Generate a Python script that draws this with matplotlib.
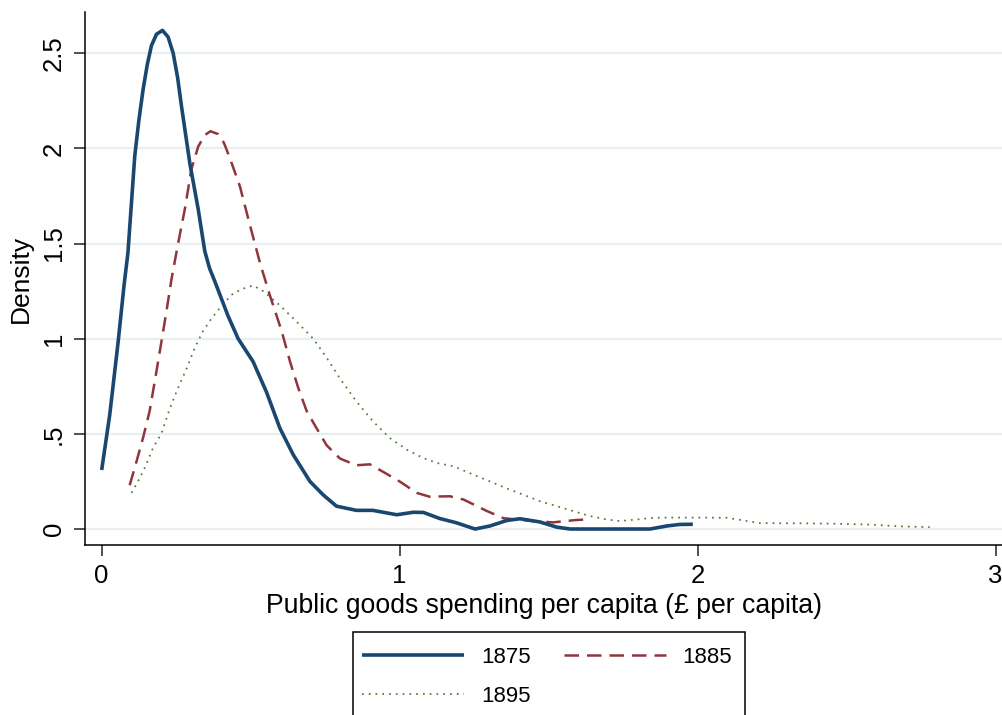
import matplotlib
matplotlib.use("Agg")
import matplotlib.pyplot as plt
from matplotlib.patches import Rectangle

plt.rcParams['font.family'] = ['Liberation Sans', 'DejaVu Sans']

# Kernel density estimates of public goods spending per capita
x1875 = [0, 0.027, 0.055, 0.075, 0.088, 0.111, 0.125, 0.139, 0.153, 0.167, 0.184,
         0.204, 0.223, 0.24, 0.255, 0.268, 0.296, 0.324, 0.346, 0.362, 0.38, 0.424,
         0.458, 0.508, 0.553, 0.598, 0.643, 0.699, 0.743, 0.788, 0.855, 0.91, 0.99,
         1.046, 1.08, 1.135, 1.19, 1.253, 1.303, 1.36, 1.404, 1.471, 1.527, 1.572,
         1.84, 1.897, 1.94, 1.984]
y1875 = [0.31, 0.60, 0.98, 1.28, 1.45, 1.96, 2.15, 2.31, 2.44, 2.54, 2.60,
         2.62, 2.585, 2.50, 2.37, 2.22, 1.92, 1.68, 1.46, 1.37, 1.30, 1.12,
         1.00, 0.88, 0.72, 0.53, 0.39, 0.25, 0.18, 0.12, 0.098, 0.098, 0.075,
         0.088, 0.087, 0.055, 0.033, 0.0, 0.016, 0.045, 0.054, 0.037, 0.01, 0.0,
         0.0, 0.016, 0.024, 0.025]

x1885 = [0.094, 0.116, 0.139, 0.161, 0.184, 0.2, 0.217, 0.234, 0.254, 0.279, 0.301,
         0.324, 0.346, 0.365, 0.391, 0.41, 0.43, 0.464, 0.497, 0.531, 0.564, 0.604,
         0.632, 0.66, 0.688, 0.721, 0.755, 0.8, 0.855, 0.9, 0.945, 1.0, 1.057, 1.1,
         1.169, 1.214, 1.247, 1.292, 1.348, 1.404, 1.46, 1.516, 1.583, 1.622]
y1885 = [0.23, 0.35, 0.48, 0.62, 0.83, 0.98, 1.14, 1.31, 1.48, 1.68, 1.89,
         2.01, 2.07, 2.09, 2.075, 2.03, 1.95, 1.80, 1.60, 1.40, 1.23, 1.04,
         0.88, 0.74, 0.62, 0.53, 0.44, 0.37, 0.335, 0.34, 0.30, 0.25, 0.19, 0.17,
         0.172, 0.155, 0.13, 0.095, 0.057, 0.048, 0.04, 0.035, 0.046, 0.05]

x1895 = [0.1, 0.122, 0.144, 0.172, 0.2, 0.228, 0.256, 0.284, 0.312, 0.34, 0.368,
         0.396, 0.435, 0.469, 0.508, 0.542, 0.598, 0.654, 0.71, 0.755, 0.8, 0.855,
         0.911, 0.967, 1.024, 1.079, 1.124, 1.18, 1.247, 1.303, 1.36, 1.415, 1.471,
         1.527, 1.583, 1.639, 1.695, 1.74, 1.796, 1.852, 1.919, 2.01, 2.098, 2.154,
         2.21, 2.345, 2.457, 2.568, 2.68, 2.779]
y1895 = [0.19, 0.25, 0.32, 0.425, 0.50, 0.63, 0.74, 0.84, 0.95, 1.04, 1.105,
         1.16, 1.23, 1.26, 1.28, 1.25, 1.175, 1.09, 1.0, 0.90, 0.79, 0.67,
         0.565, 0.478, 0.417, 0.373, 0.347, 0.33, 0.286, 0.25, 0.213, 0.18, 0.146,
         0.12, 0.094, 0.068, 0.05, 0.042, 0.05, 0.059, 0.06, 0.06, 0.059, 0.045,
         0.031, 0.03, 0.028, 0.024, 0.014, 0.01]

xticks = [0, 1, 2, 3]
xticklabels = ["0", "1", "2", "3"]
yticks = [0, 0.5, 1, 1.5, 2, 2.5]
yticklabels = ["0", ".5", "1", "1.5", "2", "2.5"]
series_labels = ["1875", "1885", "1895"]

navy = "#1a476f"
maroon = "#90353b"
green = "#55752f"
grid_col = "#e8eff1"

W, H = 1003, 715
fig = plt.figure(figsize=(W / 100, H / 100), dpi=100)
ax = fig.add_axes([85 / W, 1 - 545 / H, 1 - 85 / W, (545 - 12.5) / H])

for y in yticks:
    ax.axhline(y, color=grid_col, lw=1.6, zorder=0)

l1, = ax.plot(x1875, y1875, color=navy, lw=2.6, solid_joinstyle='round',
              solid_capstyle='butt', zorder=3)
l2, = ax.plot(x1885, y1885, color=maroon, lw=1.8, linestyle=(0, (5.8, 3.2)),
              dash_joinstyle='round', zorder=2)
l3, = ax.plot(x1895, y1895, color=green, lw=1.25, linestyle=(0, (1, 2.9)), zorder=1)

ax.set_xlim(-0.056, 3.025)
ax.set_ylim(-0.084, 2.714)

for s in ["top", "right"]:
    ax.spines[s].set_visible(False)
for s in ["left", "bottom"]:
    ax.spines[s].set_linewidth(1.1)
    ax.spines[s].set_color("black")

ax.set_xticks(xticks)
ax.set_xticklabels(xticklabels)
ax.set_yticks(yticks)
ax.set_yticklabels(yticklabels, rotation=90, va='center')
ax.tick_params(axis='both', length=8, width=1.1, color='#222222', labelsize=18.5,
               pad=6)

ax.set_xlabel("Public goods spending per capita (£ per capita)", fontsize=19.2,
              labelpad=3)
ax.set_ylabel("Density", fontsize=19, labelpad=6)

# Row-wise order: 1875, 1885 on the first row, 1895 on the second
leg = fig.legend([l1, l3, l2], [series_labels[0], series_labels[2], series_labels[1]],
                 ncol=2, loc='upper left',
                 bbox_to_anchor=(362 / W, 1 - 647 / H), fontsize=16,
                 frameon=False, handlelength=4.6, handletextpad=0.75,
                 columnspacing=1.5, labelspacing=0.8, borderpad=0,
                 borderaxespad=0)

# Legend frame, open at the bottom edge of the figure
fig.add_artist(Rectangle((353 / W, -0.01), (745 - 353) / W, 0.01 + (715 - 632) / H,
                         transform=fig.transFigure, fill=False, edgecolor='black',
                         lw=1.1, clip_on=False))

fig.savefig("out.png", dpi=100, facecolor="white")
